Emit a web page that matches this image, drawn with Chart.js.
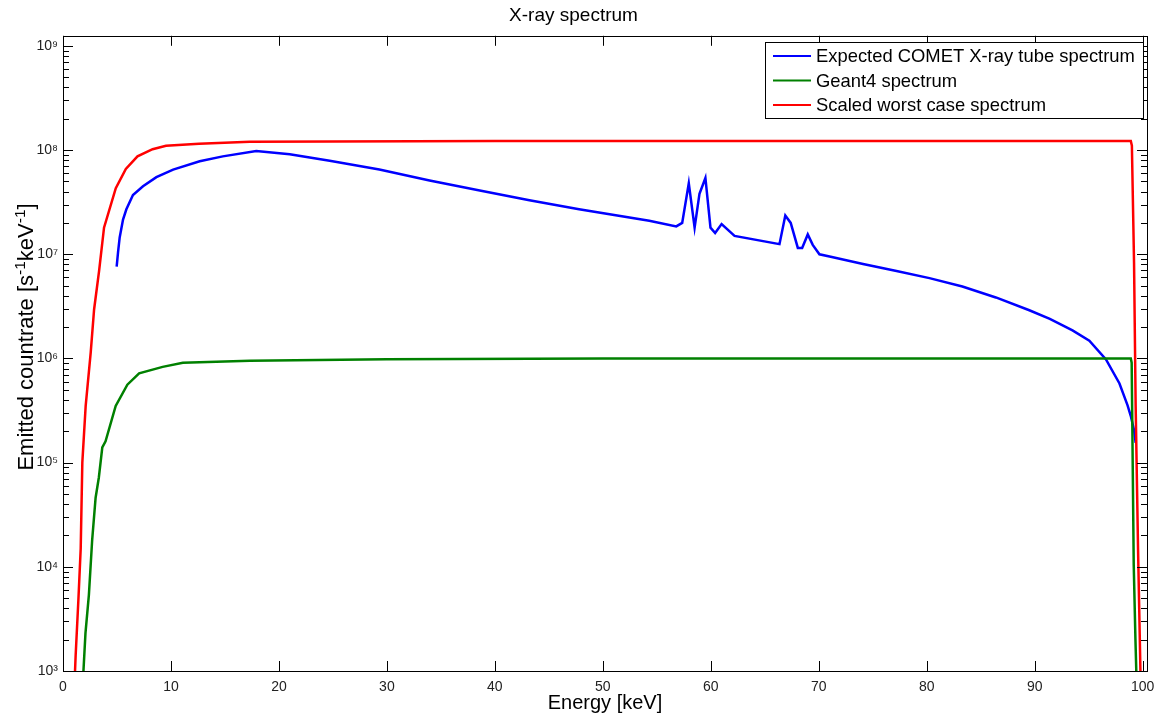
<!DOCTYPE html>
<html>
<head>
<meta charset="utf-8">
<title>X-ray spectrum</title>
<script src="https://cdn.jsdelivr.net/npm/chart.js@4.4.1/dist/chart.umd.min.js"></script>
<style>
  html, body { margin: 0; padding: 0; background: #fff; }
  #wrap { width: 1156px; height: 719px; }
</style>
</head>
<body>
<div id="wrap"><canvas id="spectrum"></canvas></div>
<script>
/* X-ray spectrum — three spectra on a log axis */

var seriesLabels = ['Expected COMET X-ray tube spectrum', 'Geant4 spectrum', 'Scaled worst case spectrum'];

var tubeEnergy = [4.97, 5.1, 5.25, 5.56, 5.87, 6.48, 7.41, 8.65, 10.2, 12.66, 14.8, 17.9, 21.0, 24.7,
    29.3, 33.95, 38.6, 43.2, 47.8, 54.3, 56.8, 57.35, 57.96, 58.5, 58.95, 59.5, 59.97, 60.4, 61.0,
    62.2, 66.36, 66.9, 67.4, 68.06, 68.46, 68.98, 69.44, 70.06, 71.0, 74.1, 77.2, 80.25, 83.3, 86.4,
    89.5, 91.4, 93.5, 95.06, 96.6, 97.85, 98.6, 98.9, 99.2, 99.35];
var tubeRate = [7.6e6, 1.05e7, 1.45e7, 2.15e7, 2.7e7, 3.7e7, 4.5e7, 5.5e7, 6.5e7, 7.8e7, 8.7e7, 9.8e7, 9.1e7, 7.9e7,
    6.5e7, 5.1e7, 4.1e7, 3.3e7, 2.7e7, 2.1e7, 1.85e7, 2.0e7, 4.8e7, 1.8e7, 3.8e7, 5.4e7, 1.8e7, 1.6e7, 1.95e7,
    1.5e7, 1.25e7, 2.35e7, 2.0e7, 1.15e7, 1.15e7, 1.55e7, 1.23e7, 1.0e7, 9.5e6, 8.05e6, 6.9e6, 5.9e6, 4.9e6, 3.85e6,
    2.9e6, 2.4e6, 1.86e6, 1.48e6, 9.8e5, 5.75e5, 3.55e5, 2.8e5, 2.05e5, 1.55e5];

var geantEnergy = [1.87, 2.08, 2.4, 2.7, 3.02, 3.32, 3.64, 3.94, 4.88, 5.96, 7.05, 9.23, 11.1, 17.3,
    30, 50, 70, 90, 98.9, 98.98, 99.05, 99.17, 99.33, 99.45];
var geantRate = [9e2, 2.3e3, 5.4e3, 1.8e4, 4.6e4, 7.2e4, 1.4e5, 1.6e5, 3.5e5, 5.6e5, 7.2e5, 8.3e5, 9.1e5, 9.5e5,
    9.8e5, 1.0e6, 1.0e6, 1.0e6, 1.0e6, 9.1e5, 1.8e5, 1.05e4, 2e3, 7e2];

var worstEnergy = [1.0, 1.17, 1.42, 1.64, 1.79, 2.1, 2.57, 2.88, 3.34, 3.8, 4.89, 5.82, 6.9, 8.3, 9.54,
    12.6, 17.3, 25, 40, 60, 80, 98.9, 99.0, 99.2, 99.35, 99.57, 99.8];
var worstRate = [5e2, 1.4e3, 4.7e3, 1.5e4, 1e5, 3.5e5, 1.15e6, 2.95e6, 6.9e6, 1.8e7, 4.3e7, 6.6e7, 8.7e7, 1.02e8, 1.1e8,
    1.15e8, 1.2e8, 1.21e8, 1.22e8, 1.22e8, 1.22e8, 1.22e8, 1.1e8, 8.3e6, 3.5e5, 1.5e4, 9e2];

var energyTicks = [0, 10, 20, 30, 40, 50, 60, 70, 80, 90, 100];

var FONT = "'Liberation Sans', Arial, sans-serif";
var SUP = { '0': '\u2070', '1': '\u00b9', '2': '\u00b2', '3': '\u00b3', '4': '\u2074', '5': '\u2075',
    '6': '\u2076', '7': '\u2077', '8': '\u2078', '9': '\u2079' };

function pts(xs, ys) {
    return xs.map(function (x, i) { return { x: x, y: ys[i] }; });
}
function mantissa(v) {
    return v / Math.pow(10, Math.floor(Math.log10(v) + 1e-9));
}
function isDecade(v) {
    return Math.abs(mantissa(v) - 1) < 1e-6;
}

/* titre de l'axe Y avec vrais exposants (texte tourné) */
function drawYLabel(ctx, cx, cy) {
    var parts = [
        ['Emitted countrate [s', 22, 0], ['-1', 15.5, -8], ['keV', 22, 0], ['-1', 15.5, -8], [']', 22, 0]
    ];
    var total = 0;
    parts.forEach(function (p) {
        ctx.font = p[1] + 'px ' + FONT;
        p.push(ctx.measureText(p[0]).width);
        total += p[3];
    });
    ctx.save();
    ctx.translate(cx, cy);
    ctx.rotate(-Math.PI / 2);
    ctx.fillStyle = '#000';
    ctx.textBaseline = 'alphabetic';
    var x = -total / 2;
    parts.forEach(function (p) {
        ctx.font = p[1] + 'px ' + FONT;
        ctx.fillText(p[0], x, 8 + p[2]);
        x += p[3];
    });
    ctx.restore();
}

/* boîte d'axes avec graduations intérieures + légende façon MATLAB */
var matlabBox = {
    id: 'matlabBox',
    afterDraw: function (chart) {
        var ctx = chart.ctx, a = chart.chartArea;
        var xs = chart.scales.x, ys = chart.scales.y;
        ctx.save();
        ctx.strokeStyle = '#000';
        ctx.lineWidth = 1;
        ctx.beginPath();
        energyTicks.forEach(function (v) {
            var px = Math.round(xs.getPixelForValue(v)) + 0.5;
            ctx.moveTo(px, a.bottom); ctx.lineTo(px, a.bottom - 10);
            ctx.moveTo(px, a.top); ctx.lineTo(px, a.top + 10);
        });
        ys.ticks.forEach(function (t) {
            var m = mantissa(t.value);
            if (t.value >= ys.max || Math.abs(m - Math.round(m)) > 1e-6) return;
            var py = Math.round(ys.getPixelForValue(t.value)) + 0.5;
            var len = isDecade(t.value) ? 10 : 6;
            ctx.moveTo(a.left, py); ctx.lineTo(a.left + len, py);
            ctx.moveTo(a.right, py); ctx.lineTo(a.right - len, py);
        });
        ctx.stroke();
        ctx.strokeRect(Math.round(a.left) + 0.5, Math.round(a.top) + 0.5,
            Math.round(a.right - a.left), Math.round(a.bottom - a.top));

        drawYLabel(ctx, 25, 337);

        // légende
        var lx = 765, ly = 42, lw = 378, lh = 76;
        ctx.fillStyle = '#fff';
        ctx.fillRect(lx, ly, lw, lh);
        ctx.strokeRect(lx + 0.5, ly + 0.5, lw, lh);
        ctx.font = '18.4px ' + FONT;
        ctx.textBaseline = 'middle';
        chart.data.datasets.forEach(function (ds, i) {
            var ry = ly + 14 + i * 24.5;
            ctx.strokeStyle = ds.borderColor;
            ctx.lineWidth = 2;
            ctx.beginPath();
            ctx.moveTo(lx + 8, ry); ctx.lineTo(lx + 46, ry);
            ctx.stroke();
            ctx.fillStyle = '#000';
            ctx.fillText(ds.label, lx + 51, ry + 1);
        });
        ctx.restore();
    }
};

new Chart(document.getElementById('spectrum').getContext('2d'), {
    type: 'line',
    data: {
        datasets: [
            { label: seriesLabels[0], data: pts(tubeEnergy, tubeRate), borderColor: '#0000ff', order: 3 },
            { label: seriesLabels[1], data: pts(geantEnergy, geantRate), borderColor: '#008000', order: 2 },
            { label: seriesLabels[2], data: pts(worstEnergy, worstRate), borderColor: '#ff0000', order: 1 }
        ]
    },
    options: {
        responsive: true,
        maintainAspectRatio: false,
        animation: false,
        layout: { padding: { right: 9 } },
        elements: {
            line: { borderWidth: 2.5, tension: 0 },
            point: { radius: 0 }
        },
        plugins: {
            legend: { display: false },
            tooltip: { enabled: false },
            title: {
                display: true,
                text: 'X-ray spectrum',
                color: '#000',
                font: { family: FONT, size: 19, weight: 'normal' },
                padding: { top: 4, bottom: 9 }
            }
        },
        scales: {
            x: {
                type: 'linear',
                min: 0,
                max: 100.4,
                afterFit: function (s) {
                    s.height = 48;
                    s.paddingLeft = 0;
                    s.paddingRight = 0;
                },
                afterBuildTicks: function (s) {
                    s.ticks = energyTicks.map(function (v) { return { value: v }; });
                },
                grid: { display: false, drawTicks: false },
                border: { display: false },
                ticks: {
                    autoSkip: false,
                    maxRotation: 0,
                    padding: 8,
                    color: '#222',
                    font: { family: FONT, size: 14 }
                },
                title: {
                    display: true,
                    text: 'Energy [keV]',
                    color: '#000',
                    font: { family: FONT, size: 20 },
                    padding: { top: 0, bottom: 4 }
                }
            },
            y: {
                type: 'logarithmic',
                min: 1e3,
                max: 1.25e9,
                afterFit: function (s) {
                    s.width = 63;
                    s.paddingTop = 0;
                    s.paddingBottom = 0;
                },
                grid: { display: false, drawTicks: false },
                border: { display: false },
                ticks: {
                    autoSkip: false,
                    padding: 5,
                    color: '#222',
                    font: { family: FONT, size: 14 },
                    callback: function (v) {
                        if (!isDecade(v) || v > this.max) return '';
                        var e = String(Math.round(Math.log10(v)));
                        return '10' + e.split('').map(function (c) { return SUP[c]; }).join('');
                    }
                }
            }
        }
    },
    plugins: [matlabBox]
});
</script>
</body>
</html>
